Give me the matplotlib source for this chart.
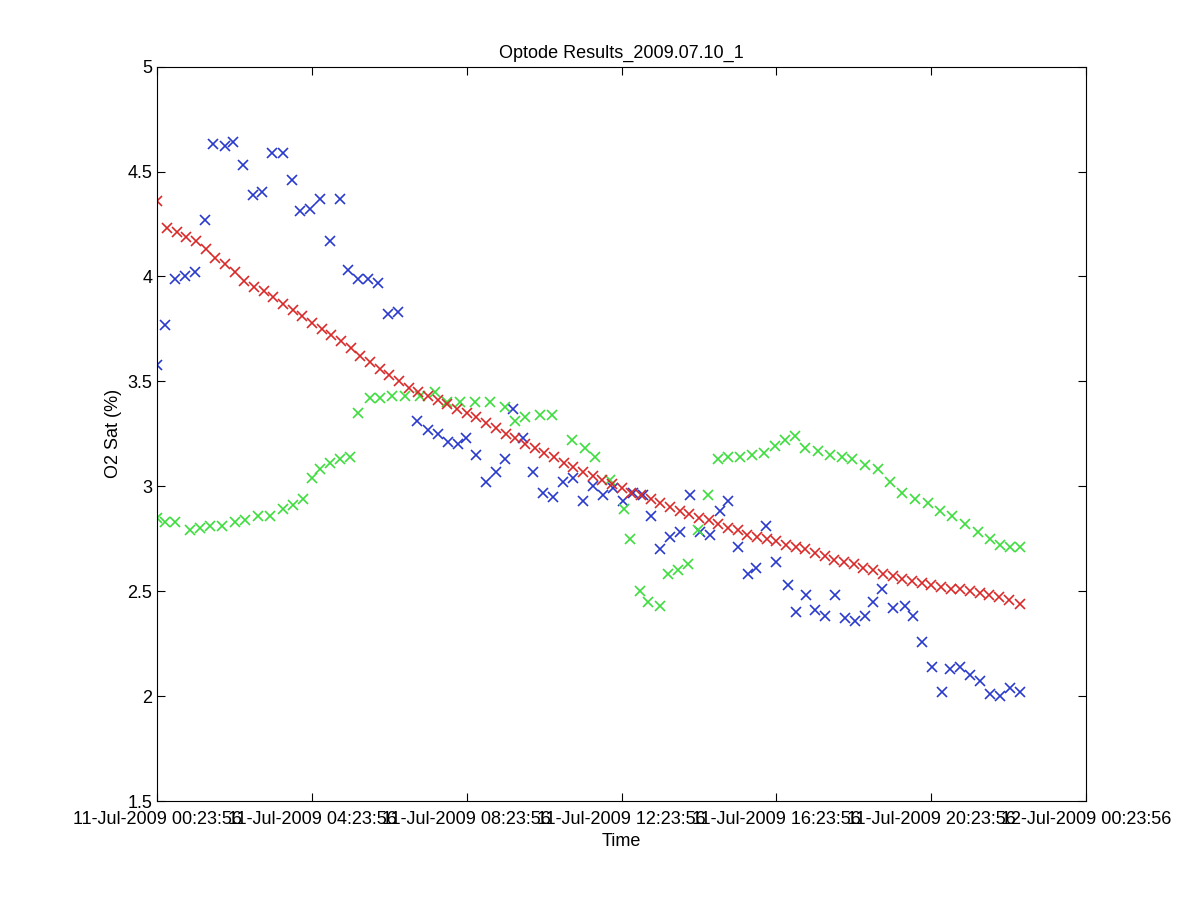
import matplotlib
matplotlib.use('Agg')
import matplotlib.pyplot as plt

# time in hours after 11-Jul-2009 00:23:56
red_t = [0, 0.25, 0.5, 0.75, 1, 1.25, 1.5, 1.75, 2, 2.25, 2.5, 2.75, 3, 3.25, 3.5, 3.75,
         4, 4.25, 4.5, 4.75, 5, 5.25, 5.5, 5.75, 6, 6.25, 6.5, 6.75, 7, 7.25, 7.5, 7.75,
         8, 8.25, 8.5, 8.75, 9, 9.25, 9.5, 9.75, 10, 10.25, 10.5, 10.75, 11, 11.25, 11.5, 11.75,
         12, 12.25, 12.5, 12.75, 13, 13.25, 13.5, 13.75, 14, 14.25, 14.5, 14.75, 15, 15.25,
         15.5, 15.75, 16, 16.25, 16.5, 16.75, 17, 17.25, 17.5, 17.75, 18, 18.25, 18.5, 18.75,
         19, 19.25, 19.5, 19.75, 20, 20.25, 20.5, 20.75, 21, 21.25, 21.5, 21.75, 22, 22.3]
red_v = [4.36, 4.23, 4.21, 4.19, 4.17, 4.13, 4.09, 4.06, 4.02, 3.98, 3.95, 3.93, 3.90, 3.87,
         3.84, 3.81, 3.78, 3.75, 3.72, 3.69, 3.66, 3.62, 3.59, 3.56, 3.53, 3.50, 3.47, 3.45,
         3.43, 3.41, 3.39, 3.37, 3.35, 3.33, 3.30, 3.28, 3.25, 3.23, 3.20, 3.18, 3.16, 3.14,
         3.11, 3.09, 3.07, 3.05, 3.03, 3.01, 2.99, 2.97, 2.96, 2.94, 2.92, 2.90, 2.88, 2.87,
         2.85, 2.84, 2.82, 2.80, 2.79, 2.77, 2.76, 2.75, 2.74, 2.72, 2.71, 2.70, 2.68, 2.67,
         2.65, 2.64, 2.63, 2.61, 2.60, 2.58, 2.57, 2.56, 2.55, 2.54, 2.53, 2.52, 2.51, 2.51,
         2.50, 2.49, 2.48, 2.47, 2.46, 2.44]

green_t = [0, .21, .47, .85, 1.11, 1.37, 1.68, 2.01, 2.27, 2.61, 2.92, 3.25, 3.51, 3.77, 4.01,
           4.21, 4.47, 4.73, 4.99, 5.19, 5.5, 5.76, 6.07, 6.41, 6.8, 7.18, 7.49, 7.83, 8.22, 8.6,
           8.99, 9.25, 9.51, 9.9, 10.21, 10.72, 11.06, 11.32, 11.71, 12.07, 12.22, 12.48, 12.69,
           13.0, 13.2, 13.46, 13.72, 13.98, 14.24, 14.5, 14.75, 15.06, 15.37, 15.68, 15.97, 16.23,
           16.49, 16.74, 17.08, 17.39, 17.7, 17.96, 18.29, 18.63, 18.94, 19.25, 19.59, 19.92,
           20.23, 20.54, 20.88, 21.21, 21.52, 21.78, 22.04, 22.3]
green_v = [2.85, 2.83, 2.83, 2.79, 2.80, 2.81, 2.81, 2.83, 2.84, 2.86, 2.86, 2.89, 2.91, 2.94,
           3.04, 3.08, 3.11, 3.13, 3.14, 3.35, 3.42, 3.42, 3.43, 3.43, 3.43, 3.45, 3.40, 3.40,
           3.40, 3.40, 3.38, 3.31, 3.33, 3.34, 3.34, 3.22, 3.18, 3.14, 3.03, 2.89, 2.75, 2.50,
           2.45, 2.43, 2.58, 2.60, 2.63, 2.79, 2.96, 3.13, 3.14, 3.14, 3.15, 3.16, 3.19, 3.22,
           3.24, 3.18, 3.17, 3.15, 3.14, 3.13, 3.10, 3.08, 3.02, 2.97, 2.94, 2.92, 2.88, 2.86,
           2.82, 2.78, 2.75, 2.72, 2.71, 2.71]

blue_t = [0, .21, .47, .72, .98, 1.24, 1.45, 1.76, 1.96, 2.22, 2.48, 2.71, 2.97, 3.26, 3.49,
          3.7, 3.95, 4.21, 4.47, 4.73, 4.94, 5.19, 5.45, 5.71, 5.97, 6.23, 6.72, 7.0, 7.26, 7.52,
          7.78, 7.98, 8.24, 8.5, 8.76, 8.99, 9.2, 9.46, 9.72, 9.97, 10.23, 10.49, 10.75, 11.01,
          11.27, 11.52, 11.78, 12.04, 12.3, 12.56, 12.76, 13.0, 13.26, 13.51, 13.77, 14.03,
          14.29, 14.55, 14.75, 15.01, 15.27, 15.48, 15.74, 16.0, 16.3, 16.51, 16.77, 17.0,
          17.26, 17.52, 17.78, 18.04, 18.29, 18.5, 18.73, 19.02, 19.33, 19.53, 19.77, 20.03,
          20.28, 20.49, 20.75, 21.01, 21.27, 21.52, 21.78, 22.04, 22.3]
blue_v = [3.58, 3.77, 3.99, 4.00, 4.02, 4.27, 4.63, 4.62, 4.64, 4.53, 4.39, 4.40, 4.59, 4.59,
          4.46, 4.31, 4.32, 4.37, 4.17, 4.37, 4.03, 3.99, 3.99, 3.97, 3.82, 3.83, 3.31, 3.27,
          3.25, 3.21, 3.20, 3.23, 3.15, 3.02, 3.07, 3.13, 3.37, 3.23, 3.07, 2.97, 2.95, 3.02,
          3.04, 2.93, 3.00, 2.96, 2.99, 2.93, 2.97, 2.96, 2.86, 2.70, 2.76, 2.78, 2.96, 2.78,
          2.77, 2.88, 2.93, 2.71, 2.58, 2.61, 2.81, 2.64, 2.53, 2.40, 2.48, 2.41, 2.38, 2.48,
          2.37, 2.36, 2.38, 2.45, 2.51, 2.42, 2.43, 2.38, 2.26, 2.14, 2.02, 2.13, 2.14, 2.10,
          2.07, 2.01, 2.00, 2.04, 2.02]

tick_hours = [0, 4, 8, 12, 16, 20, 24]
tick_labels = ['11-Jul-2009 00:23:56', '11-Jul-2009 04:23:56', '11-Jul-2009 08:23:56',
               '11-Jul-2009 12:23:56', '11-Jul-2009 16:23:56', '11-Jul-2009 20:23:56',
               '12-Jul-2009 00:23:56']

plt.rcParams['font.family'] = ['Liberation Sans', 'DejaVu Sans']
fig = plt.figure(figsize=(12, 9), dpi=100)
ax = fig.add_axes([0.131, 0.11, 0.774, 0.816])

ax.plot(blue_t, blue_v, 'x', color='#2a3acb', ms=7, mew=1.2)
ax.plot(green_t, green_v, 'x', color='#3ddd3d', ms=7, mew=1.2)
ax.plot(red_t, red_v, 'x', color='#d82a2a', ms=7, mew=1.2)

ax.set_xlim(0, 24)
ax.set_ylim(1.5, 5)
ax.set_xticks(tick_hours)
ax.set_xticklabels(tick_labels)
ax.set_yticks([1.5, 2, 2.5, 3, 3.5, 4, 4.5, 5])
ax.set_yticklabels(['1.5', '2', '2.5', '3', '3.5', '4', '4.5', '5'])
ax.tick_params(direction='in', top=True, right=True, labelsize=13, length=6)
ax.tick_params(axis='x', pad=7)
ax.set_xlabel('Time', fontsize=13)
ax.set_ylabel('O2 Sat (%)', fontsize=13)
ax.set_title('Optode Results_2009.07.10_1', fontsize=13)

fig.savefig('out.png')
